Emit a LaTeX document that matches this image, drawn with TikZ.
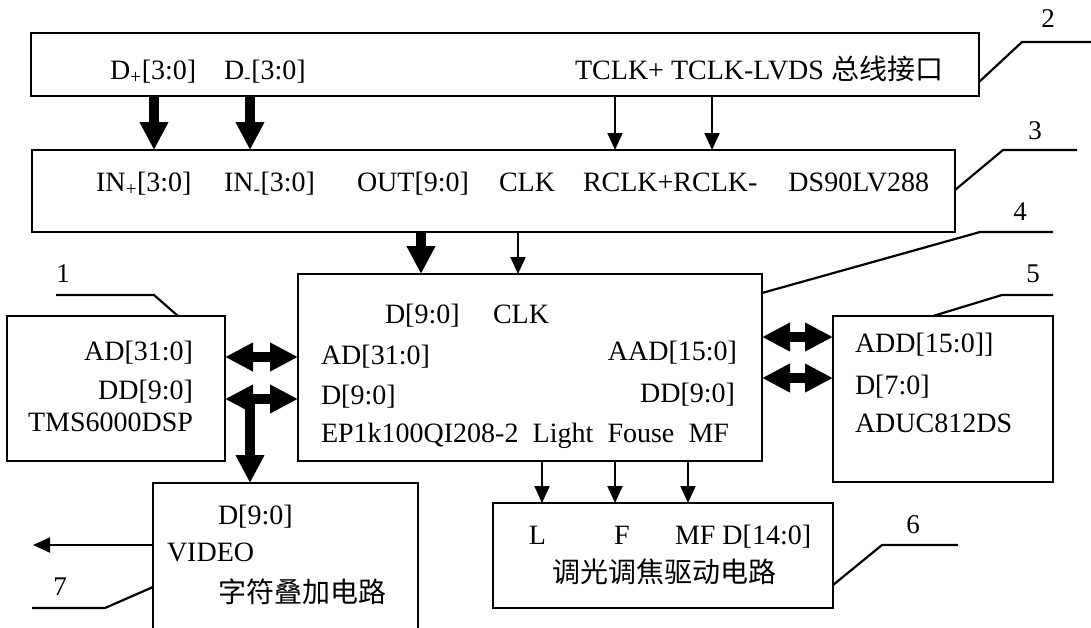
\documentclass[tikz,border=0pt]{standalone}
\usepackage{fontspec}
\setmainfont{Liberation Serif}
\newfontfamily\cjk{Noto Sans CJK SC}
\usetikzlibrary{arrows.meta}
\begin{document}
\begin{tikzpicture}[x=1pt,y=-1pt,
  box/.style={draw, line width=2.2pt, rectangle, inner sep=0pt, outer sep=0pt},
  lbl/.style={inner sep=0pt, outer sep=0pt, font=\fontsize{28}{32}\selectfont},
  num/.style={inner sep=0pt, outer sep=0pt, font=\fontsize{27}{30}\selectfont},
  bus/.style={line width=10pt, -{Triangle[width=27pt,length=28pt]}},
  bibus/.style={line width=10pt, {Triangle[width=27pt,length=28pt]}-{Triangle[width=27pt,length=28pt]}},
  sig/.style={line width=2pt, -{Triangle[width=15pt,length=17pt]}},
  leader/.style={line width=2.2pt}]
\clip (0,0) rectangle (1091,627);
\fill[white] (0,0) rectangle (1091,627);

% boxes
\node[box, minimum width=948pt, minimum height=63pt] (lvds) at (505,64.5) {};
\node[box, minimum width=923pt, minimum height=82pt] (rx) at (493.5,191) {};
\node[box, minimum width=464pt, minimum height=187pt] (fpga) at (530,367.5) {};
\node[box, minimum width=218pt, minimum height=145pt] (dsp) at (116,388.5) {};
\node[box, minimum width=220pt, minimum height=166pt] (adc) at (943,399) {};
\node[box, minimum width=340pt, minimum height=105pt] (drv) at (663,555.5) {};
\node[box, minimum width=265pt, minimum height=177pt] (osd) at (285.5,571.5) {};

% box 2 texts
\node[lbl, anchor=base west] (d1) at (110,79.5) {D\textsubscript{+}[3:0]};
\node[lbl, anchor=base west] (d2) at (224,79.5) {D\textsubscript{-}[3:0]};
\node[lbl, anchor=base east] (tclk) at (943,79.5) {TCLK+ TCLK-LVDS {\cjk 总线接口}};

% box 3 texts
\node[lbl, anchor=base west] (in1) at (96,191.5) {IN\textsubscript{+}[3:0]};
\node[lbl, anchor=base west] (in2) at (224,191.5) {IN\textsubscript{-}[3:0]};
\node[lbl, anchor=base west] (out) at (357,191.5) {OUT[9:0]};
\node[lbl, anchor=base west] (clk) at (499,191.5) {CLK};
\node[lbl, anchor=base west] (rclk) at (583,191.5) {RCLK+RCLK-};
\node[lbl, anchor=base east] (ds) at (929,191.5) {DS90LV288};

% box 4 texts
\node[lbl, anchor=base west] (fd) at (385,323.5) {D[9:0]};
\node[lbl, anchor=base west] (fclk) at (493,323.5) {CLK};
\node[lbl, anchor=base west] (fad) at (321,364) {AD[31:0]};
\node[lbl, anchor=base west] (fdd) at (321,404) {D[9:0]};
\node[lbl, anchor=base west] (fep) at (321,442) {\makebox[408pt][s]{EP1k100QI208-2 Light Fouse MF}};
\node[lbl, anchor=base east] (faad) at (737,360.5) {AAD[15:0]};
\node[lbl, anchor=base east] (fdd2) at (735,402.5) {DD[9:0]};

% box 1 texts
\node[lbl, anchor=base east] (dad) at (193,360) {AD[31:0]};
\node[lbl, anchor=base east] (ddd) at (193,399.5) {DD[9:0]};
\node[lbl, anchor=base east] (dtms) at (193,431.5) {TMS6000DSP};

% box 5 texts
\node[lbl, anchor=base west] (add) at (855,352.5) {ADD[15:0]]};
\node[lbl, anchor=base west] (ad7) at (855,394.5) {D[7:0]};
\node[lbl, anchor=base west] (aduc) at (855,432.5) {ADUC812DS};

% box 6 texts
\node[lbl, anchor=base] (dl) at (537.5,544.5) {L};
\node[lbl, anchor=base] (df) at (622,544.5) {F};
\node[lbl, anchor=base west] (dmf) at (675,544.5) {MF D[14:0]};
\node[lbl, anchor=base west] (dcn) at (552,582.5) {\cjk 调光调焦驱动电路};

% box 7 texts
\node[lbl, anchor=base west] (od) at (218,524.5) {D[9:0]};
\node[lbl, anchor=base west] (ov) at (167,561) {VIDEO};
\node[lbl, anchor=base west] (ocn) at (218,602.5) {\cjk 字符叠加电路};

% numbers
\node[num, anchor=base] (n1) at (63,282) {1};
\node[num, anchor=base] (n2) at (1048,27) {2};
\node[num, anchor=base] (n3) at (1035,139) {3};
\node[num, anchor=base] (n4) at (1020,220) {4};
\node[num, anchor=base] (n5) at (1033,282) {5};
\node[num, anchor=base] (n6) at (913,533) {6};
\node[num, anchor=base] (n7) at (60,595) {7};

% leaders
\draw[leader] (lvds.east |- 0,82) -- (1022,42) -- (1091,42);
\draw[leader] (rx.east |- 0,190) -- (1003,150) -- (1077,150);
\draw[leader] (fpga.east |- 0,293) -- (980,232) -- (1053,232);
\draw[leader] (adc.north -| 933,0) -- (1002,295) -- (1053,295);
\draw[leader] (dsp.north -| 178,0) -- (154,295) -- (56,295);
\draw[leader] (drv.east |- 0,585) -- (882,545) -- (958,545);
\draw[leader] (osd.west |- 0,587) -- (105,608) -- (32,608);

% buses lvds -> rx
\draw[bus] (lvds.south -| 154,0) -- (rx.north -| 154,0);
\draw[bus] (lvds.south -| 250,0) -- (rx.north -| 250,0);
\draw[sig] (lvds.south -| 615,0) -- (rx.north -| 615,0);
\draw[sig] (lvds.south -| 712,0) -- (rx.north -| 712,0);

% rx -> fpga
\draw[bus] (rx.south -| 421,0) -- (fpga.north -| 421,0);
\draw[sig] (rx.south -| 518,0) -- (fpga.north -| 518,0);

% dsp <-> fpga
\coordinate (j) at (250,399);
\draw[bus] (j) -- (osd.north -| j);
\draw[bibus] (dsp.east |- 0,357) -- (fpga.west |- 0,357);
\draw[bibus] (dsp.east |- 0,399) -- (fpga.west |- 0,399);

% fpga <-> adc
\draw[bibus] (fpga.east |- 0,337) -- (adc.west |- 0,337);
\draw[bibus] (fpga.east |- 0,378) -- (adc.west |- 0,378);

% fpga -> drv
\draw[sig] (fpga.south -| 542,0) -- (drv.north -| 542,0);
\draw[sig] (fpga.south -| 615,0) -- (drv.north -| 615,0);
\draw[sig] (fpga.south -| 688,0) -- (drv.north -| 688,0);

% video out
\coordinate (vout) at (33,545);
\draw[sig] (osd.west |- vout) -- (vout);
\end{tikzpicture}
\end{document}
